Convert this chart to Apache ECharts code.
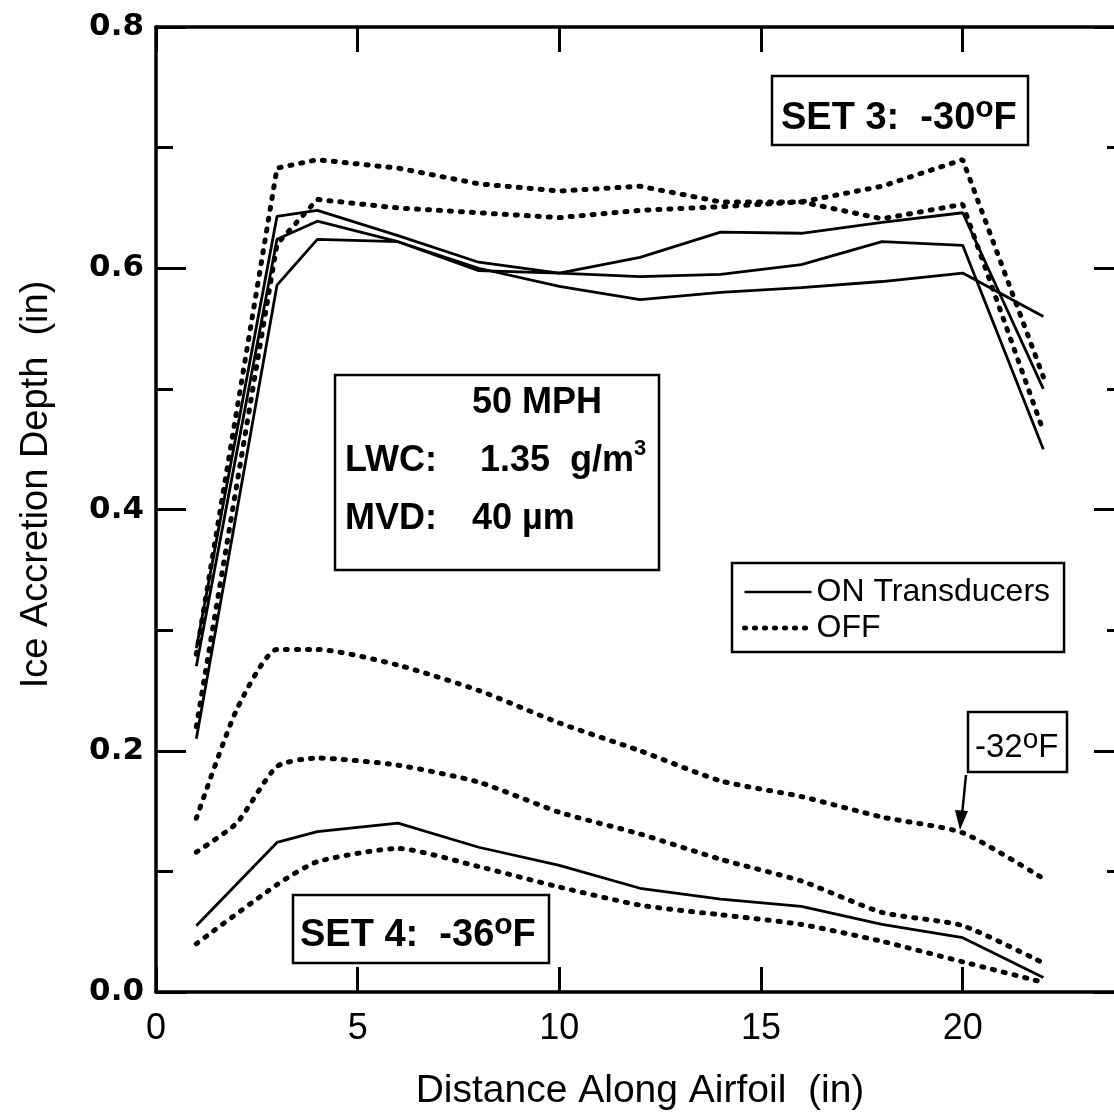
<!DOCTYPE html>
<html><head><meta charset="utf-8">
<script src="https://cdn.jsdelivr.net/npm/echarts@6/dist/echarts.min.js"></script>
<style>html,body{margin:0;padding:0;background:#fff}#c{width:1114px;height:1115px}</style>
</head><body><div id="c"></div><script>
// x positions (in) of the measured points
const xMain = [1, 3, 4, 6, 8, 10, 12, 14, 16, 18, 20, 22];
const xFine = [1, 2, 3, 4, 6, 8, 10, 12, 14, 16, 18, 20, 22];
// SET 3 (-30 F)
const set3OnA  = [0.285, 0.643, 0.648, 0.627, 0.605, 0.596, 0.609, 0.630, 0.629, 0.638, 0.646, 0.500];
const set3OnB  = [0.270, 0.624, 0.639, 0.622, 0.600, 0.585, 0.574, 0.580, 0.584, 0.589, 0.596, 0.560];
const set3OnC  = [0.210, 0.586, 0.624, 0.622, 0.598, 0.596, 0.593, 0.595, 0.603, 0.622, 0.619, 0.450];
const set3OffA = [0.280, 0.683, 0.690, 0.683, 0.670, 0.664, 0.668, 0.655, 0.655, 0.668, 0.690, 0.510];
const set3OffB = [0.220, 0.620, 0.657, 0.650, 0.646, 0.642, 0.648, 0.651, 0.655, 0.641, 0.653, 0.465];
// -32 F
const m32Off   = [0.144, 0.234, 0.284, 0.284, 0.271, 0.250, 0.223, 0.200, 0.175, 0.162, 0.145, 0.132, 0.094];
// SET 4 (-36 F)
const set4OffA = [0.116, 0.140, 0.187, 0.194, 0.188, 0.174, 0.149, 0.131, 0.110, 0.092, 0.066, 0.055, 0.024];
const set4On   = [0.055, 0.124, 0.133, 0.140, 0.120, 0.105, 0.086, 0.077, 0.071, 0.056, 0.045, 0.012];
const set4OffB = [0.040, 0.089, 0.108, 0.119, 0.104, 0.087, 0.072, 0.064, 0.056, 0.042, 0.025, 0.008];

const legendNames = ['ON Transducers', 'OFF'];

function pairs(xs, ys) { return xs.map((x, i) => [x, ys[i]]); }
const solidStyle = { type: 'solid', width: 2.8, color: '#000' };
const dotStyle = { type: [2, 9], width: 5, cap: 'round', color: '#000' };
function mk(name, xs, ys, style, smooth) {
  return { type: 'line', name: name, data: pairs(xs, ys), showSymbol: false, symbol: 'none',
    lineStyle: style, itemStyle: { color: '#000' }, smooth: smooth || false, silent: true, animation: false };
}

const chart = echarts.init(document.getElementById('c'));
const axLine = { onZero: false, lineStyle: { color: '#000', width: 3.5 } };
const tickStyle = { color: '#000', width: 3 };
const F = 'Liberation Sans';

function boxText(x, y, parts, size, weight, supSize, lift) {
  return { type: 'text', x: x, y: y, z: 10,
    style: { text: parts, verticalAlign: 'middle', align: 'left',
      rich: {
        m: { fontSize: size, fontWeight: weight, fontFamily: F, fill: '#000', lineHeight: 12 + 2 * lift },
        s: { fontSize: supSize, fontWeight: weight, fontFamily: F, fill: '#000', lineHeight: 12, verticalAlign: 'top' }
      } } };
}
function rect(x, y, w, h) {
  return { type: 'rect', z: 9, shape: { x: x, y: y, width: w, height: h },
    style: { fill: '#fff', stroke: '#000', lineWidth: 2.5 } };
}

chart.setOption({
  backgroundColor: '#fff',
  animation: false,
  grid: { left: 156, top: 27, right: -10, bottom: 123, containLabel: false, outerBoundsMode: 'none' },
  xAxis: [{
    type: 'value', min: 0, max: 24, interval: 5, position: 'bottom',
    axisLine: axLine, axisTick: { inside: true, length: 25, lineStyle: tickStyle },
    axisLabel: { color: '#000', fontFamily: F, fontSize: 36, margin: 19, showMaxLabel: false },
    splitLine: { show: false },
    name: 'Distance Along Airfoil  (in)', nameLocation: 'middle', nameGap: 80,
    nameTextStyle: { color: '#000', fontFamily: F, fontSize: 39 }
  }, {
    type: 'value', min: 0, max: 24, interval: 5, position: 'top',
    axisLine: axLine, axisTick: { inside: true, length: 25, lineStyle: tickStyle },
    axisLabel: { show: false }, splitLine: { show: false }
  }],
  yAxis: [{
    type: 'value', min: 0, max: 0.8, interval: 0.2, position: 'left',
    axisLine: { show: true, onZero: false, lineStyle: { color: '#000', width: 3.5 } },
    axisTick: { inside: true, length: 30, lineStyle: tickStyle },
    minorTick: { show: true, splitNumber: 2, length: 17, lineStyle: tickStyle },
    axisLabel: { color: '#000', fontFamily: 'DejaVu Sans', fontWeight: 'bold', fontSize: 31, margin: 12,
      formatter: v => v.toFixed(1) },
    splitLine: { show: false },
    name: 'Ice Accretion Depth  (in)', nameLocation: 'middle', nameGap: 100, nameRotate: 90,
    nameTextStyle: { color: '#000', fontFamily: F, fontSize: 38, padding: [0, 0, 0, 50] }
  }, {
    type: 'value', min: 0, max: 0.8, interval: 0.2, position: 'right',
    axisLine: { show: true, onZero: false, lineStyle: { color: '#000', width: 3.5 } },
    axisTick: { inside: true, length: 30, lineStyle: tickStyle },
    minorTick: { show: true, splitNumber: 2, length: 17, lineStyle: tickStyle },
    axisLabel: { show: false }, splitLine: { show: false }
  }],
  legend: {
    data: [
      { name: legendNames[0], itemStyle: { opacity: 0 }, lineStyle: { width: 2.6, type: 'solid', color: '#000' } },
      { name: legendNames[1], itemStyle: { opacity: 0 }, lineStyle: { width: 5, type: [1, 9], cap: 'round', color: '#000' } }
    ],
    orient: 'vertical', left: 732, top: 563,
    padding: [13, 14, 8, 10], itemGap: 4, itemWidth: 67, itemHeight: 14,
    borderColor: '#000', borderWidth: 2.5, backgroundColor: '#fff', selectedMode: false,
    itemStyle: { opacity: 0 },
    textStyle: { fontFamily: F, fontSize: 32, color: '#000', lineHeight: 31 }, z: 10
  },
  series: [
    mk('ON Transducers', xMain, set3OnA, solidStyle),
    mk('ON Transducers', xMain, set3OnB, solidStyle),
    mk('ON Transducers', xMain, set3OnC, solidStyle),
    mk('OFF', xMain, set3OffA, dotStyle),
    mk('OFF', xMain, set3OffB, dotStyle),
    mk('OFF', xFine, m32Off, dotStyle, 0.2),
    mk('OFF', xFine, set4OffA, dotStyle, 0.2),
    mk('ON Transducers', xMain, set4On, solidStyle),
    mk('OFF', xMain, set4OffB, dotStyle, 0.2)
  ],
  graphic: [
    rect(772, 76, 256, 69),
    boxText(781, 119, '{m|SET 3:  -30}{s|o}{m|F}', 38, 'bold', 30, 19),
    rect(335, 375, 324, 195),
    boxText(472, 403, '{m|50 MPH}', 36, 'bold', 20, 12),
    boxText(345, 461, '{m|LWC:}', 36, 'bold', 20, 12),
    boxText(480, 461, '{m|1.35  g/m}{s|3}', 36, 'bold', 22, 17),
    boxText(345, 519, '{m|MVD:}', 36, 'bold', 20, 12),
    boxText(472, 519, '{m|40 µm}', 36, 'bold', 20, 12),
    rect(968, 712, 99, 60),
    boxText(975, 748, '{m|-32}{s|o}{m|F}', 33, 'normal', 28, 16),
    { type: 'line', z: 10, shape: { x1: 966, y1: 775, x2: 962, y2: 815 }, style: { stroke: '#000', lineWidth: 2.5 } },
    { type: 'polygon', z: 10, shape: { points: [[955, 810], [968, 811], [960, 830]] }, style: { fill: '#000' } },
    rect(293, 895, 256, 68),
    boxText(300, 936, '{m|SET 4:  -36}{s|o}{m|F}', 38, 'bold', 30, 19)
  ]
});
</script></body></html>
